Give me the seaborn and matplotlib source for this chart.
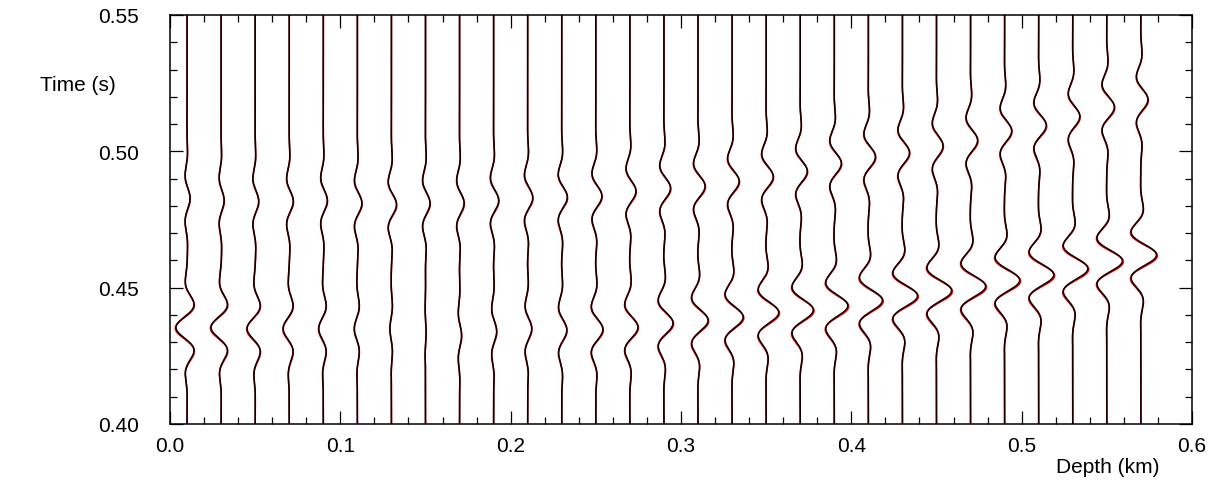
import numpy as np
import pandas as pd
import matplotlib
matplotlib.use("Agg")
import matplotlib.pyplot as plt
from matplotlib.ticker import MultipleLocator, FormatStrFormatter
import seaborn as sns

# ---------------- data ----------------
depths = [0.01, 0.03, 0.05, 0.07, 0.09, 0.11, 0.13, 0.15, 0.17, 0.19,
          0.21, 0.23, 0.25, 0.27, 0.29, 0.31, 0.33, 0.35, 0.37, 0.39,
          0.41, 0.43, 0.45, 0.47, 0.49, 0.51, 0.53, 0.55, 0.57]

# first (lower) event: centre time (s) and signed amplitude (arb. units)
event1_time = [0.4354, 0.4354, 0.4350, 0.4350, 0.4350, 0.4350, 0.4350, 0.4335, 0.4325, 0.4340,
               0.4350, 0.4345, 0.4347, 0.4355, 0.4370, 0.4380, 0.4392, 0.4409, 0.4418, 0.4434,
               0.4453, 0.4470, 0.4489, 0.4505, 0.4527, 0.4547, 0.4570, 0.4598, 0.4620]
event1_amp = [-11.0, -10.0, -8.0, -6.0, -4.5, -3.0, -1.5, 0.6, 2.0, 3.0,
              4.0, 5.0, 7.0, 8.0, 9.0, 10.0, 11.0, 12.5, 13.0, 13.5,
              14.0, 15.0, 15.0, 15.0, 15.0, 15.0, 15.0, 15.5, 15.5]

# second (upper) event
event2_time = [0.4828, 0.4820, 0.4817, 0.4817, 0.4820, 0.4810, 0.4805, 0.4810, 0.4810, 0.4820,
               0.4830, 0.4832, 0.4836, 0.4854, 0.4865, 0.4872, 0.4890, 0.4907, 0.4927, 0.4956,
               0.4980, 0.4995, 0.5020, 0.5040, 0.5075, 0.5095, 0.5128, 0.5162, 0.5190]
event2_amp = [3.0, 3.0, 3.5, 4.0, 4.0, 4.5, 5.0, 4.5, 4.5, 5.0,
              5.0, 5.5, 6.0, 6.0, 6.5, 7.0, 7.0, 7.0, 7.0, 7.0,
              7.0, 7.0, 6.5, 7.0, 7.0, 7.5, 7.0, 7.5, 7.0]

# red (second) series: same events, slightly different gain / timing
red_gain = 1.06
red_shift = -0.0003

# wavelet shape (dominant period and envelope width, s)
wavelet_period = 0.0186
wavelet_width = 0.013
trace_gain = 1.0 / 1700.0  # km of deflection per amplitude unit

time = np.arange(0.40, 0.5502, 0.0002)


def wavelet(t, t0, a):
    d = t - t0
    return a * np.cos(2 * np.pi * d / wavelet_period) * np.exp(-(d / wavelet_width) ** 2)


rows = []
for i, z in enumerate(depths):
    for series, g, sh in (("red", red_gain, red_shift), ("black", 1.0, 0.0)):
        w = (wavelet(time, event1_time[i] + sh, event1_amp[i] * g)
             + wavelet(time, event2_time[i] + sh, event2_amp[i] * g))
        rows.append(pd.DataFrame({"trace": i, "series": series,
                                  "time": time, "pos": z + w * trace_gain}))
df = pd.concat(rows, ignore_index=True)

# ---------------- plotting ----------------
sns.set_style("ticks")
plt.rcParams["font.family"] = ["Liberation Sans", "DejaVu Sans"]

fig = plt.figure(figsize=(12.23, 4.89), dpi=100)
ax = fig.add_axes([170 / 1223, 1 - 425 / 489, 1022 / 1223, 409 / 489])

sns.lineplot(data=df[df.series == "red"], x="pos", y="time", units="trace",
             estimator=None, sort=False, color="red", lw=1.2, ax=ax)
sns.lineplot(data=df[df.series == "black"], x="pos", y="time", units="trace",
             estimator=None, sort=False, color="black", lw=1.1, ax=ax)

ax.set_xlim(0.0, 0.6)
ax.set_ylim(0.40, 0.55)
ax.xaxis.set_major_locator(MultipleLocator(0.1))
ax.xaxis.set_minor_locator(MultipleLocator(0.02))
ax.yaxis.set_major_locator(MultipleLocator(0.05))
ax.yaxis.set_minor_locator(MultipleLocator(0.01))
ax.xaxis.set_major_formatter(FormatStrFormatter("%.1f"))
ax.yaxis.set_major_formatter(FormatStrFormatter("%.2f"))

for s in ax.spines.values():
    s.set_visible(True)
    s.set_linewidth(1.1)
    s.set_color("black")

ax.tick_params(which="both", direction="in", top=True, right=True,
               width=0.9, color="black", labelsize=15, labelcolor="black")
ax.tick_params(which="major", length=9.5)
ax.tick_params(which="minor", length=5)
ax.tick_params(axis="x", which="major", pad=9)
ax.tick_params(axis="y", which="major", pad=37)
plt.setp(ax.get_yticklabels(), ha="center")

ax.set_ylabel("Time (s)", fontsize=15, rotation=0, ha="center", va="center",
              color="black")
ax.yaxis.set_label_coords(-0.0905, 0.831)
ax.set_xlabel("Depth (km)", fontsize=15, ha="center", va="center", color="black")
ax.xaxis.set_label_coords(0.918, -0.105)

fig.savefig("out.png", dpi=100)
